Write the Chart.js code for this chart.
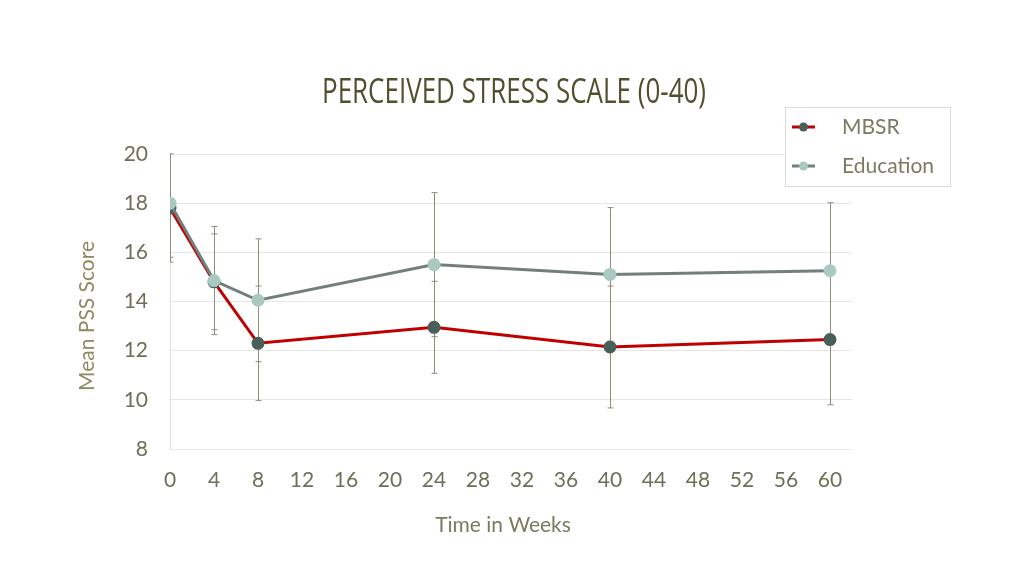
<!DOCTYPE html>
<html>
<head>
<meta charset="utf-8">
<script src="https://cdn.jsdelivr.net/npm/chart.js@4"></script>
<style>
  html, body { margin: 0; padding: 0; background: #fff; }
  #wrap { width: 1024px; height: 576px; }
</style>
</head>
<body>
<div id="wrap"><canvas id="myChart" width="1024" height="576"></canvas></div>
<script>
// values
const weeks = [0, 4, 8, 24, 40, 60];
const mbsr = [17.8, 14.8, 12.3, 12.95, 12.15, 12.45];
const education = [18.0, 14.85, 14.05, 15.5, 15.1, 15.25];
const mbsrErr = [2.2, 1.95, 2.33, 1.87, 2.48, 2.65];
const educationErr = [2.2, 2.2, 2.5, 2.93, 2.72, 2.77];
const seriesNames = ["MBSR", "Education"];
const xTicks = [0, 4, 8, 12, 16, 20, 24, 28, 32, 36, 40, 44, 48, 52, 56, 60];
const chartTitle = 'PERCEIVED STRESS SCALE (0-40)';
const yTitle = 'Mean PSS Score';
const xTitle = 'Time in Weeks';

const labelFont = "Lato, 'Open Sans', sans-serif";
const ctx = document.getElementById('myChart').getContext('2d');

function toPoints(ys, errs) {
    return weeks.map((w, i) => ({ x: w, y: ys[i], err: errs[i] }));
}

// vertical error bars, drawn behind the lines
const errorBars = {
    id: 'errorBars',
    beforeDatasetsDraw(chart) {
        const c = chart.ctx;
        const xs = chart.scales.x, ys = chart.scales.y;
        const area = chart.chartArea;
        c.save();
        c.beginPath();
        c.rect(area.left, area.top - 1, area.right - area.left, area.bottom - area.top + 2);
        c.clip();
        c.strokeStyle = '#8e8e78';
        c.lineWidth = 1;
        chart.data.datasets.forEach(ds => {
            ds.data.forEach(p => {
                const px = Math.round(xs.getPixelForValue(p.x)) + 0.5;
                const top = ys.getPixelForValue(p.y + p.err);
                const bot = ys.getPixelForValue(p.y - p.err);
                c.beginPath();
                c.moveTo(px, top); c.lineTo(px, bot);
                c.moveTo(px - 3, top); c.lineTo(px + 3, top);
                c.moveTo(px - 3, bot); c.lineTo(px + 3, bot);
                c.stroke();
            });
        });
        c.restore();
    }
};

// condensed title, axis titles and boxed legend
const extras = {
    id: 'extras',
    afterDraw(chart) {
        const c = chart.ctx;
        c.save();
        // title squeezed horizontally to look like the condensed face
        c.font = "35px 'Open Sans', sans-serif";
        c.fillStyle = '#50502f';
        c.textBaseline = 'alphabetic';
        c.textAlign = 'left';
        const tw = c.measureText(chartTitle).width;
        const sx = 384 / tw;
        c.save();
        c.translate(322, 103);
        c.scale(sx, 1);
        c.fillText(chartTitle, 0, 0);
        c.restore();

        // y axis title
        c.save();
        c.translate(87, 316);
        c.rotate(-Math.PI / 2);
        c.font = '21px ' + labelFont;
        c.fillStyle = '#8a8a5f';
        c.textAlign = 'center';
        c.textBaseline = 'middle';
        c.fillText(yTitle, 0, 0);
        c.restore();

        // x axis title
        c.font = '21px ' + labelFont;
        c.fillStyle = '#7a7a5c';
        c.textAlign = 'center';
        c.textBaseline = 'middle';
        c.fillText(xTitle, 503, 525);

        // legend
        const x0 = 785, y0 = 107, w = 165, h = 79;
        c.fillStyle = '#fff';
        c.fillRect(x0, y0, w, h);
        c.strokeStyle = '#dcdcd6';
        c.lineWidth = 1;
        c.strokeRect(x0 + 0.5, y0 + 0.5, w, h);
        const order = [1, 0];
        order.forEach((di, i) => {
            const ds = chart.data.datasets[di];
            const y = y0 + 20 + i * 39;
            c.strokeStyle = ds.borderColor;
            c.lineWidth = 3;
            c.beginPath();
            c.moveTo(x0 + 7, y); c.lineTo(x0 + 30, y);
            c.stroke();
            c.fillStyle = ds.pointBackgroundColor;
            c.beginPath();
            c.arc(x0 + 18.5, y, 4.5, 0, Math.PI * 2);
            c.fill();
            c.fillStyle = '#7b7b62';
            c.font = '21px ' + labelFont;
            c.textAlign = 'left';
            c.textBaseline = 'middle';
            c.fillText(ds.label, x0 + 57, y);
        });
        c.restore();
    }
};

const myChart = new Chart(ctx, {
    type: 'line',
    data: {
        datasets: [
            {
                label: seriesNames[1],
                data: toPoints(education, educationErr),
                borderColor: '#727f7d',
                backgroundColor: '#a9c9c1',
                pointBackgroundColor: '#a9c9c1',
                pointBorderColor: '#a9c9c1',
                borderWidth: 3,
                pointRadius: 5,
                order: 0
            },
            {
                label: seriesNames[0],
                data: toPoints(mbsr, mbsrErr),
                borderColor: '#c00000',
                backgroundColor: '#4a5f5a',
                pointBackgroundColor: '#4a5f5a',
                pointBorderColor: '#4a5f5a',
                borderWidth: 3,
                pointRadius: 5,
                order: 1
            }
        ]
    },
    options: {
        responsive: false,
        animation: false,
        layout: { padding: { left: 0, right: 172, top: 154, bottom: 0 } },
        plugins: {
            legend: { display: false },
            tooltip: { enabled: false },
            title: { display: false }
        },
        scales: {
            x: {
                type: 'linear',
                min: 0,
                max: 62,
                afterBuildTicks: scale => {
                    scale.ticks = xTicks.map(v => ({ value: v }));
                },
                afterFit: scale => { scale.height = 127; },
                ticks: { color: '#6f6f57', font: { family: labelFont, size: 21 }, padding: 19, maxRotation: 0, autoSkip: false },
                grid: { display: false, drawTicks: false },
                border: { display: false },
                title: { display: false }
            },
            y: {
                min: 8,
                max: 20,
                afterFit: scale => { scale.width = 170; },
                ticks: { stepSize: 2, color: '#6f6f57', font: { family: labelFont, size: 21 }, padding: 22 },
                grid: { color: '#e6e6e6', drawTicks: false },
                border: { display: true, color: '#e0e0e0' },
                title: { display: false }
            }
        }
    },
    plugins: [errorBars, extras]
});
</script>
</body>
</html>
